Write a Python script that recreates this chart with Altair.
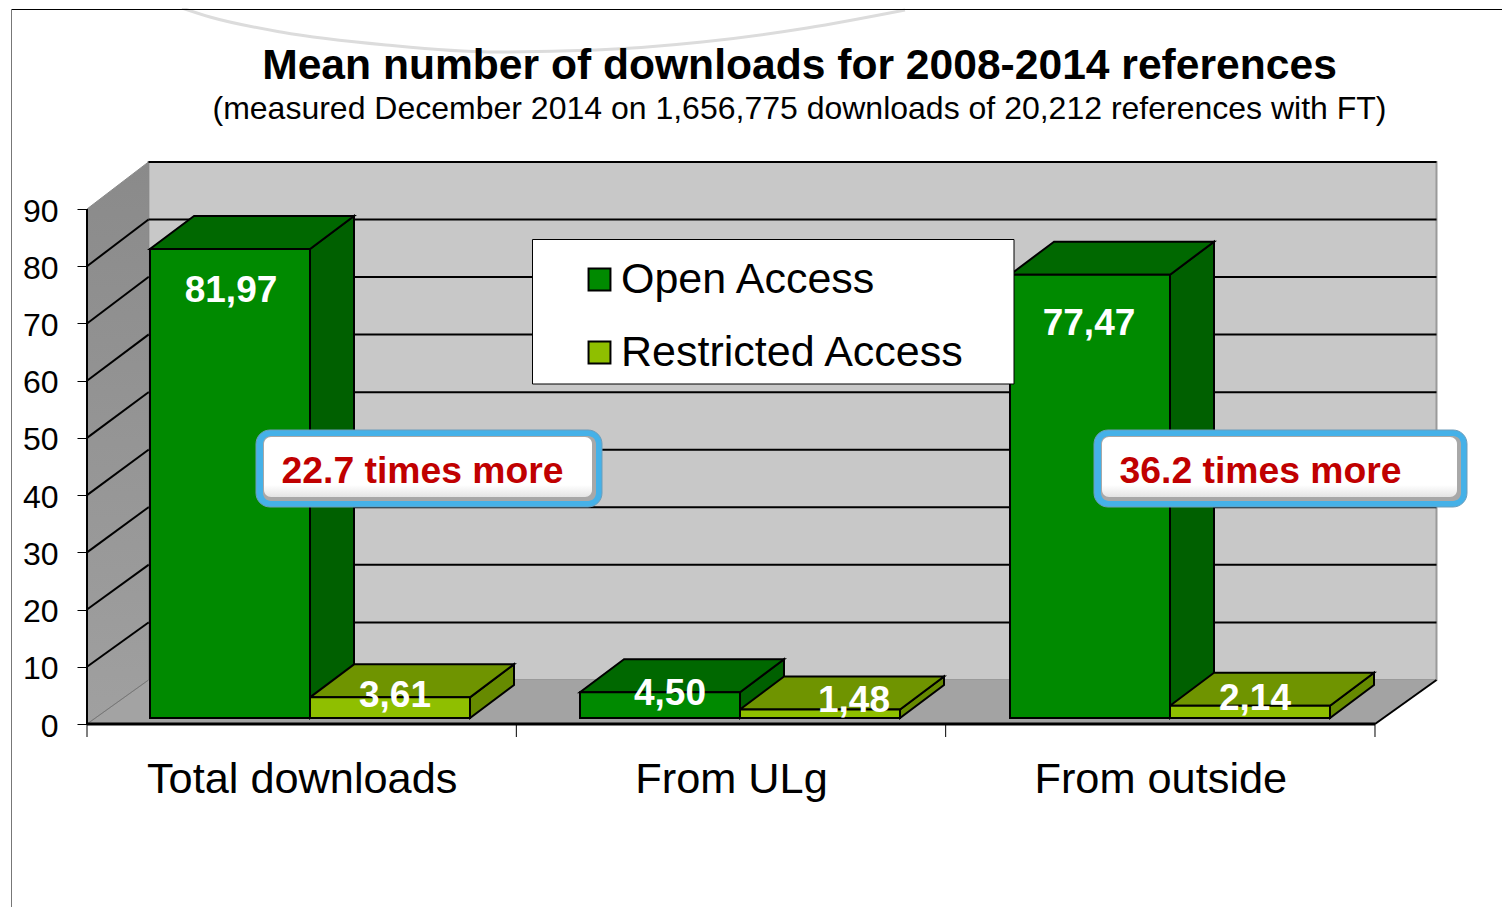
import altair as alt
import pandas as pd

# ---- data ----
categories = ["Total downloads", "From ULg", "From outside"]
open_access = [81.97, 4.50, 77.47]
restricted_access = [3.61, 1.48, 2.14]
series_names = ["Open Access", "Restricted Access"]
y_ticks = [0, 10, 20, 30, 40, 50, 60, 70, 80, 90]
callouts = ["22.7 times more", "36.2 times more"]
title_text = "Mean number of downloads for 2008-2014 references"
subtitle_text = "(measured December 2014 on 1,656,775 downloads of 20,212 references with FT)"

# ---- layout: pixels per unit of the two scales ----
FONT = "Liberation Sans"
BLACK = "#000000"
PX_CAT, PX_VAL = 429.33, 5.722
X0_PX, Y0_PX = 87, 724
W, H = 1494, 899


def ux(px):
    return (px - X0_PX) / PX_CAT


def uy(px):
    return (Y0_PX - px) / PX_VAL


x_scale = alt.Scale(domain=[ux(8), ux(8 + W)], nice=False, zero=False)
y_scale = alt.Scale(domain=[uy(8 + H), uy(8)], nice=False, zero=False)

label_expr = "[" + ",".join(f"'{c}'" for c in categories) + "][round(datum.value-0.5)]"
X_AXIS = alt.Axis(
    values=[0.5, 1.5, 2.5], labelExpr=label_expr, grid=False, domain=False, ticks=False,
    labelFont=FONT, labelFontSize=43.3, labelColor=BLACK, labelPadding=34, labelLimit=600,
    offset=-(8 + H - Y0_PX), labelFlush=False, labelOverlap=False, title=None,
)
Y_AXIS = alt.Axis(
    values=y_ticks, grid=False, domain=False, tickSize=10, tickColor=BLACK, tickWidth=1,
    labelFont=FONT, labelFontSize=32, labelColor=BLACK, labelPadding=19, labelOffset=2,
    offset=-(X0_PX - 8), labelFlush=False, labelOverlap=False, title=None,
)


def X(f="x"):
    return alt.X(f"{f}:Q", scale=x_scale, axis=X_AXIS, title=None)


def Y(f="y"):
    return alt.Y(f"{f}:Q", scale=y_scale, axis=Y_AXIS, title=None)


BAR_W = 160 / PX_CAT
GAP = 63 / PX_CAT
PITCH = 430 / PX_CAT
BASE = 6 / PX_VAL
DX, DY = 44 / PX_CAT, 33 / PX_VAL
WALL_DX, WALL_DY = 61.5 / PX_CAT, 44 / PX_VAL
WALL_K = 1.006


def wall(v):
    return WALL_DY + v * WALL_K


fronts, sides, tops, labels = [], [], [], []
label_dx = [[1, 5], [10, 34], [-1, 5]]
label_dy = [[42, -1], [2, -9], [49, -7]]
face = {"Open Access": "#006800", "Restricted Access": "#6F9400"}
side = {"Open Access": "#006000", "Restricted Access": "#668A00"}
for g, cat in enumerate(categories):
    for s, (name, vals) in enumerate(zip(series_names, [open_access, restricted_access])):
        v = vals[g]
        xl = g * PITCH + GAP + s * BAR_W
        xr = xl + BAR_W
        top = BASE + v
        bid = f"{g}-{s}"
        fronts.append(dict(x=xl, x2=xr, y=BASE, y2=top, series=name))
        sides += [
            dict(x=xr, y=top, y2=BASE, id=bid, series=name, fill=side[name]),
            dict(x=xr + DX, y=top + DY, y2=BASE + DY, id=bid, series=name, fill=side[name]),
        ]
        tops += [
            dict(y=top, x=xl, x2=xr, id=bid, series=name, fill=face[name]),
            dict(y=top + DY, x=xl + DX, x2=xr + DX, id=bid, series=name, fill=face[name]),
        ]
        labels.append(dict(
            x=(xl + xr) / 2 + label_dx[g][s] / PX_CAT,
            y=top - label_dy[g][s] / PX_VAL,
            t=f"{v:.2f}".replace(".", ","),
        ))

fronts, sides, tops, labels = map(pd.DataFrame, (fronts, sides, tops, labels))

# ---- the 3-D box ----
back_wall = alt.Chart(pd.DataFrame([dict(x=WALL_DX, x2=3 + WALL_DX, y=wall(0), y2=wall(90))])).mark_rect(
    fill="#C8C8C8", stroke="#9A9A9A", strokeWidth=2
).encode(X(), x2="x2:Q", y=Y(), y2="y2:Q")

side_wall = alt.Chart(pd.DataFrame([
    dict(x=0, y=90, y2=0), dict(x=WALL_DX, y=wall(90), y2=wall(0)),
])).mark_area(
    color=alt.Gradient(gradient="linear", x1=0, x2=0, y1=0, y2=1,
                       stops=[alt.GradientStop(offset=0, color="#8A8A8A"),
                              alt.GradientStop(offset=1, color="#A0A0A0")]),
    stroke="#8A8A8A", strokeWidth=1,
).encode(X(), Y(), y2="y2:Q")

floor = alt.Chart(pd.DataFrame([
    dict(y=0, x=0, x2=3), dict(y=wall(0), x=WALL_DX, x2=3 + WALL_DX),
])).mark_area(orient="horizontal", color="#A3A3A3").encode(X(), x2="x2:Q", y=Y())

back_grid = alt.Chart(pd.DataFrame(
    [dict(x=WALL_DX, x2=3 + WALL_DX, y=wall(v)) for v in y_ticks[1:]]
)).mark_rule(color=BLACK, strokeWidth=2).encode(X(), x2="x2:Q", y=Y())

side_lines = []
for v in y_ticks[1:-1]:
    side_lines += [dict(x=0, y=v, id=v), dict(x=WALL_DX, y=wall(v), id=v)]
side_grid = alt.Chart(pd.DataFrame(side_lines)).mark_line(color=BLACK, strokeWidth=2).encode(
    X(), Y(), detail="id:N"
)

floor_edge = alt.Chart(pd.DataFrame([dict(x=3, y=0), dict(x=3 + WALL_DX, y=wall(0))])).mark_line(
    color=BLACK, strokeWidth=2
).encode(X(), Y())
floor_left = alt.Chart(pd.DataFrame([dict(x=0, y=0), dict(x=WALL_DX, y=wall(0))])).mark_line(
    color="#777777", strokeWidth=1
).encode(X(), Y())
y_line = alt.Chart(pd.DataFrame([dict(x=0, y=0, y2=90)])).mark_rule(color=BLACK, strokeWidth=2).encode(
    X(), y=Y(), y2="y2:Q"
)
x_line = alt.Chart(pd.DataFrame([dict(x=0, x2=3, y=0)])).mark_rule(color=BLACK, strokeWidth=3).encode(
    X(), x2="x2:Q", y=Y()
)
x_ticks = alt.Chart(pd.DataFrame([dict(x=i, y=0, y2=uy(737)) for i in range(4)])).mark_rule(
    color=BLACK, strokeWidth=1
).encode(X(), y=Y(), y2="y2:Q")


# ---- bars ----
def faces(name):
    s = alt.Chart(sides[sides.series == name]).mark_area(stroke=BLACK, strokeWidth=2).encode(
        X(), Y(), y2="y2:Q", detail="id:N", color=alt.Color("fill:N", scale=None)
    )
    t = alt.Chart(tops[tops.series == name]).mark_area(orient="horizontal", stroke=BLACK, strokeWidth=2).encode(
        X(), x2="x2:Q", y=Y(), detail="id:N", color=alt.Color("fill:N", scale=None)
    )
    return [s, t]


front = alt.Chart(fronts).mark_rect(stroke=BLACK, strokeWidth=2).encode(
    X(), x2="x2:Q", y=Y(), y2="y2:Q",
    color=alt.Color(
        "series:N",
        scale=alt.Scale(domain=series_names, range=["#008A00", "#8FBF00"]),
        legend=alt.Legend(
            title=None, orient="none", legendX=570, legendY=250,
            symbolType="square", symbolSize=480, symbolStrokeColor=BLACK, symbolStrokeWidth=2,
            symbolOpacity=1, labelFont=FONT, labelFontSize=43, labelColor=BLACK, labelOffset=0,
            labelLimit=600, rowPadding=29, padding=0, zindex=1,
        ),
    ),
)

value_labels = alt.Chart(labels).mark_text(
    font=FONT, fontSize=37, fontWeight="bold", color="#FFFFFF", baseline="middle", align="center"
).encode(X(), Y(), text="t:N")

# ---- legend box ----
legend_box = alt.Chart(pd.DataFrame([dict(x=ux(532.5), x2=ux(1014), y=uy(384), y2=uy(239.5))])).mark_rect(
    fill="#FFFFFF", stroke=BLACK, strokeWidth=1
).encode(X(), x2="x2:Q", y=Y(), y2="y2:Q")


# ---- callouts ----
def rect_layer(rows, **kw):
    return alt.Chart(pd.DataFrame(rows)).mark_rect(**kw).encode(X(), x2="x2:Q", y=Y(), y2="y2:Q")


call_boxes = [(256, 602), (1094, 1467)]
outer, shade, inner, call_text = [], [], [], []
for (left, right), txt in zip(call_boxes, callouts):
    outer.append(dict(x=ux(left), x2=ux(right), y=uy(507), y2=uy(430)))
    shade.append(dict(x=ux(left + 7), x2=ux(right - 6), y=uy(501), y2=uy(436)))
    inner.append(dict(x=ux(left + 8), x2=ux(right - 10), y=uy(497), y2=uy(437)))
    call_text.append(dict(x=ux(left + 166.5), y=uy(472), t=txt))

call_outer = rect_layer(outer, fill="#45B1E8", stroke="#6C9DBB", strokeWidth=1, cornerRadius=14)
call_shade = rect_layer(shade, fill="#A8A8A8", cornerRadius=8)
call_inner = rect_layer(inner, cornerRadius=7, fill=alt.Gradient(
    gradient="linear", x1=0, x2=0, y1=0, y2=1,
    stops=[alt.GradientStop(offset=0, color="#FFFFFF"),
           alt.GradientStop(offset=0.8, color="#FFFFFF"),
           alt.GradientStop(offset=1, color="#E4E4E4")]))
call_labels = alt.Chart(pd.DataFrame(call_text)).mark_text(
    font=FONT, fontSize=37.3, fontWeight="bold", color="#C00000", baseline="middle", align="center"
).encode(X(), Y(), text="t:N")

# ---- slide frame and template arc ----
arc_px = [(182, 8), (210, 17), (281, 32), (386, 45), (491, 52), (596, 50), (702, 42), (807, 28), (905, 10)]
arc = alt.Chart(pd.DataFrame([dict(x=ux(a), y=uy(b), o=i) for i, (a, b) in enumerate(arc_px)])).mark_line(
    color="#DCDCDC", strokeWidth=3, interpolate="monotone"
).encode(X(), Y(), order="o:Q")
frame_top = alt.Chart(pd.DataFrame([dict(x=ux(11), x2=ux(8 + W), y=uy(9.5))])).mark_rule(
    color=BLACK, strokeWidth=1
).encode(X(), x2="x2:Q", y=Y())
frame_left = alt.Chart(pd.DataFrame([dict(x=ux(11.5), y=uy(9), y2=uy(8 + H))])).mark_rule(
    color="#777777", strokeWidth=1
).encode(X(), y=Y(), y2="y2:Q")

chart = alt.layer(
    arc, frame_top, frame_left,
    back_wall, floor, side_wall, back_grid, side_grid, floor_left, floor_edge,
    y_line, x_line, x_ticks,
    *faces("Open Access"), *faces("Restricted Access"),
    front, value_labels, legend_box,
    call_outer, call_shade, call_inner, call_labels,
).properties(
    width=W, height=H, padding=0, autosize="none",
    title=alt.TitleParams(
        text=title_text, subtitle=subtitle_text, anchor="middle", dx=799.5 - (8 + W / 2), offset=-123,
        font=FONT, fontSize=42.6, fontWeight="bold", color=BLACK,
        subtitleFont=FONT, subtitleFontSize=32, subtitleColor=BLACK, subtitlePadding=6,
    ),
).configure_view(stroke=None)

chart.save("out.html", embed_options={"renderer": "svg", "actions": False})
